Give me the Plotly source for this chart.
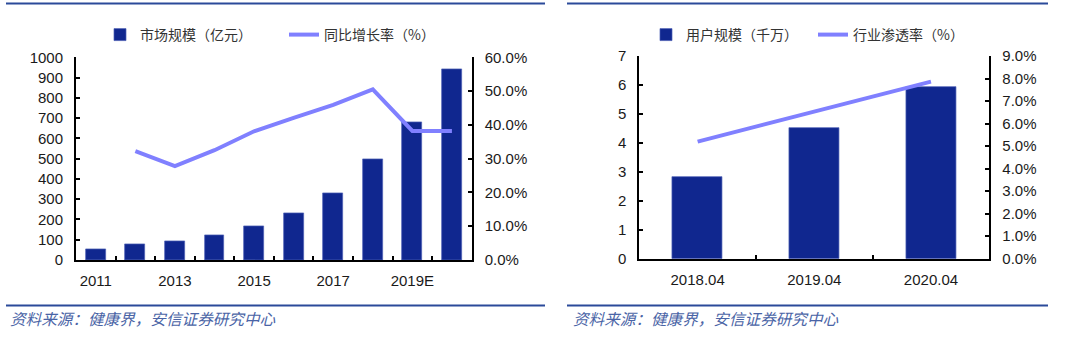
import plotly.graph_objects as go

# ---------------- data ----------------
left_categories = ["2011", "2012", "2013", "2014", "2015", "2016", "2017", "2018", "2019E", "2020E"]
left_tick_labels = ["2011", "2013", "2015", "2017", "2019E"]
market_size = [53, 77, 90, 120, 164, 232, 327, 498, 681, 939]          # 亿元
growth_rate = [None, 32.2, 27.8, 32.5, 38.1, 42.1, 45.9, 50.5, 38.2, 38.2]  # %

right_categories = ["2018.04", "2019.04", "2020.04"]
user_scale = [2.83, 4.52, 5.92]       # 千万
penetration = [5.2, 6.55, 7.86]       # %

BAR = "#10278f"
BAR_EDGE = "#4c5fb5"
LINE = "#8080ff"
RULE = "#2b4a9a"
FONT = "Liberation Sans, Arial, Noto Sans CJK SC"
CJK = "Noto Sans CJK SC, Liberation Sans"

W, H = 1080, 343
def px(x):
    return x / W
def py(y):
    return 1 - y / H

lx = list(range(len(left_categories)))
rx = list(range(len(right_categories)))

fig = go.Figure()

fig.add_trace(go.Bar(x=lx, y=market_size, name="市场规模（亿元）",
                     marker=dict(color=BAR, line=dict(width=0.7, color=BAR_EDGE)),
                     width=0.5, xaxis="x", yaxis="y", legend="legend"))
fig.add_trace(go.Scatter(x=lx, y=growth_rate, name="同比增长率（%）", mode="lines",
                         line=dict(color=LINE, width=4), xaxis="x", yaxis="y2", legend="legend"))
fig.add_trace(go.Bar(x=rx, y=user_scale, name="用户规模（千万）",
                     marker=dict(color=BAR, line=dict(width=0.7, color=BAR_EDGE)),
                     width=0.43, xaxis="x2", yaxis="y3", legend="legend2"))
fig.add_trace(go.Scatter(x=rx, y=penetration, name="行业渗透率（%）", mode="lines",
                         line=dict(color=LINE, width=4), xaxis="x2", yaxis="y4", legend="legend2"))

tickfont = dict(family=FONT, size=15, color="#1a1a1a")
axis_common = dict(showline=True, linecolor="black", linewidth=2, showgrid=False, zeroline=False,
                   automargin=False,
                   tickfont=tickfont, ticks="inside", ticklen=4, tickwidth=1.5, tickcolor="black")

ldom_x = [px(76), px(471.7)]
ldom_y = [py(260), py(57.3)]
rdom_x = [px(639.3), px(989.3)]
rdom_y = [py(258.7), py(56)]

left_tickvals = [left_categories.index(c) for c in left_tick_labels]

xcommon = dict(showline=True, linecolor="black", linewidth=2, showgrid=False, zeroline=False,
               automargin=False, ticks="", tickfont=tickfont, ticklabelstandoff=6)

fig.update_layout(
    width=W, height=H, margin=dict(l=0, r=0, t=0, b=0, autoexpand=False),
    paper_bgcolor="white", plot_bgcolor="white",
    font=dict(family=FONT, size=14, color="#1a1a1a"),
    bargap=0,
    hovermode=False,
    xaxis=dict(domain=ldom_x, anchor="y", range=[-0.5, len(left_categories) - 0.5],
               tickmode="array", tickvals=left_tickvals, ticktext=left_tick_labels,
               minor=dict(tickmode="array", tickvals=[i + 0.5 for i in lx[:-1]], ticks="inside",
                          ticklen=4, tickwidth=1.5, tickcolor="black", showgrid=False), **xcommon),
    yaxis=dict(domain=ldom_y, anchor="x", range=[0, 1000], dtick=100, ticklabelstandoff=8, **axis_common),
    yaxis2=dict(domain=ldom_y, anchor="x", overlaying="y", side="right", range=[0, 60], dtick=10,
                tickformat=".1f", ticksuffix="%", ticklabelstandoff=8, **axis_common),
    xaxis2=dict(domain=rdom_x, anchor="y3", range=[-0.5, len(right_categories) - 0.5],
                tickmode="array", tickvals=rx, ticktext=right_categories,
                minor=dict(tickmode="array", tickvals=[i + 0.5 for i in rx[:-1]], ticks="inside",
                           ticklen=4, tickwidth=1.5, tickcolor="black", showgrid=False), **xcommon),
    yaxis3=dict(domain=rdom_y, anchor="x2", range=[0, 7], dtick=1, ticklabelstandoff=8, **axis_common),
    yaxis4=dict(domain=rdom_y, anchor="x2", overlaying="y3", side="right", range=[0, 9], dtick=1,
                tickformat=".1f", ticksuffix="%", ticklabelstandoff=8, **axis_common),
    legend=dict(orientation="h", x=px(100), xanchor="left", y=py(35), yanchor="middle",
                font=dict(family=CJK, size=14, color="#333333"), bgcolor="rgba(0,0,0,0)",
                itemwidth=30, entrywidth=139, traceorder="normal"),
    legend2=dict(orientation="h", x=px(646), xanchor="left", y=py(35), yanchor="middle",
                 font=dict(family=CJK, size=14, color="#333333"), bgcolor="rgba(0,0,0,0)",
                 itemwidth=30, entrywidth=122, traceorder="normal"),
)

shapes = []
for (x0, x1) in [(6, 545), (567, 1048)]:
    for y in (3.5, 305.5):
        shapes.append(dict(type="line", xref="paper", yref="paper", x0=px(x0), x1=px(x1), y0=py(y), y1=py(y),
                           line=dict(color=RULE, width=2)))
fig.update_layout(shapes=shapes)

for x in (8, 571):
    fig.add_annotation(xref="paper", yref="paper", x=px(x), y=py(318), xanchor="left", yanchor="middle",
                       text="<i>资料来源：健康界，安信证券研究中心</i>", showarrow=False,
                       font=dict(family=CJK, size=15.6, color="#4a64a6"))

fig.write_html("out.html")
